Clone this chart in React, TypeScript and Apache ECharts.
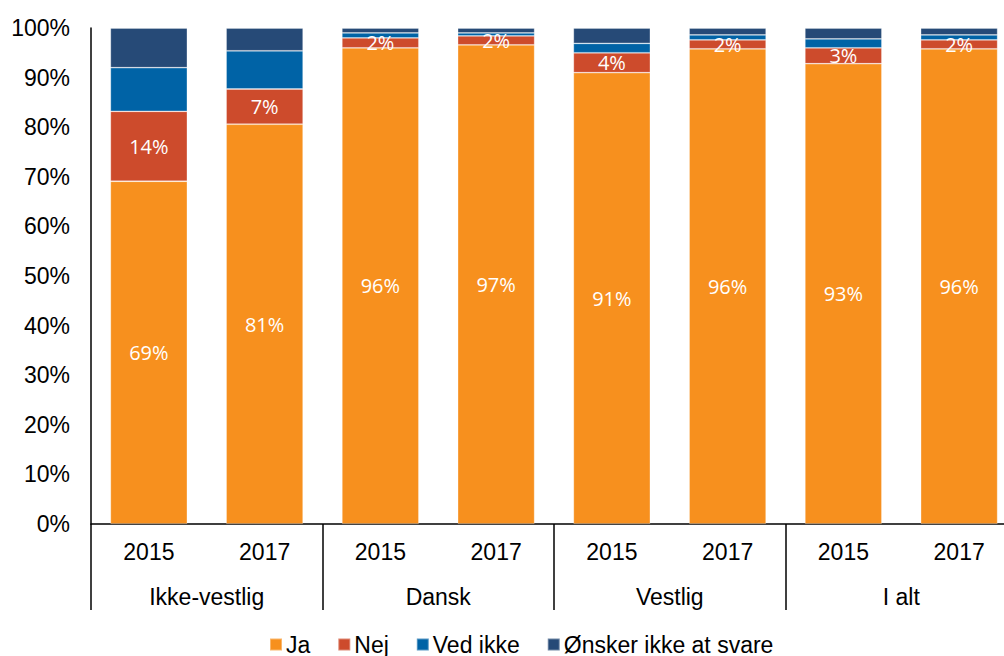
import React, { useEffect, useRef } from "react";
import * as echarts from "echarts";

const years = ["2015", "2017", "2015", "2017", "2015", "2017", "2015", "2017"];
const groups = ["Ikke-vestlig", "Dansk", "Vestlig", "I alt"];
const seriesNames = ["Ja", "Nej", "Ved ikke", "Ønsker ikke at svare"];
const colors = ["#F7901E", "#CD4B2C", "#0063A6", "#264A77"];

const ja = [69.1, 80.6, 96.0, 96.6, 91.0, 95.8, 92.8, 95.8];
const nej = [14.1, 7.1, 2.0, 1.8, 4.0, 1.8, 3.2, 1.8];
const vedIkke = [8.8, 7.7, 1.0, 0.6, 1.9, 1.0, 1.8, 1.0];
const oensker = [8.0, 4.6, 1.0, 1.0, 3.1, 1.4, 2.2, 1.4];

const yTicks = { min: 0, max: 100, interval: 10 };

export default function App() {
  const ref = useRef<HTMLDivElement>(null);
  useEffect(() => {
    if (!ref.current) return;
    const chart = echarts.init(ref.current, null, { renderer: "svg" });
    const axisFont = "'Liberation Sans', Arial, sans-serif";
    const data = [ja, nej, vedIkke, oensker];
    const series = data.map((d, i) => ({
      name: seriesNames[i],
      type: "bar",
      stack: "total",
      xAxisIndex: 0,
      barWidth: 77,
      data: d,
      itemStyle: {
        color: colors[i],
        borderColor: "rgba(255,255,255,0.35)",
        borderWidth: 0.8,
      },
      label: {
        show: i < 2,
        position: "inside",
        color: "#ffffff",
        fontFamily: "'Open Sans', sans-serif",
        fontSize: 20,
        formatter: (p: any) => `${Math.round(p.value)}%`,
      },
    }));
    chart.setOption({
      animation: false,
      grid: { left: 91, top: 28, width: 926, height: 496 },
      legend: {
        data: seriesNames,
        left: 264,
        top: 628,
        icon: "rect",
        itemWidth: 12,
        itemHeight: 12,
        itemGap: 27,
        textStyle: { fontFamily: axisFont, fontSize: 23, color: "#000", padding: [0, 0, 0, -1] },
      },
      xAxis: [
        {
          type: "category",
          data: years,
          position: "bottom",
          axisLine: { show: true, lineStyle: { color: "#000", width: 1.5 } },
          axisTick: { show: false },
          axisLabel: { interval: 0, margin: 16, color: "#000", fontFamily: axisFont, fontSize: 23 },
        },
        {
          type: "category",
          data: groups,
          position: "bottom",
          axisLine: { show: false },
          axisTick: { show: true, length: 86, interval: 0, lineStyle: { color: "#000", width: 1.5 } },
          axisLabel: { interval: 0, margin: 61, color: "#000", fontFamily: axisFont, fontSize: 23 },
        },
      ],
      yAxis: {
        type: "value",
        min: yTicks.min,
        max: yTicks.max,
        interval: yTicks.interval,
        axisLine: { show: true, lineStyle: { color: "#000", width: 1.5 } },
        axisTick: { show: false },
        splitLine: { show: false },
        axisLabel: {
          formatter: "{value}%",
          margin: 21,
          color: "#000",
          fontFamily: axisFont,
          fontSize: 23,
        },
      },
      series,
    });
    return () => chart.dispose();
  }, []);
  return (
    <div
      style={{
        position: "fixed",
        left: 0,
        top: 0,
        width: 1004,
        height: 656,
        overflow: "hidden",
        background: "#fff",
      }}
    >
      <div ref={ref} style={{ width: 1030, height: 656 }} />
    </div>
  );
}
